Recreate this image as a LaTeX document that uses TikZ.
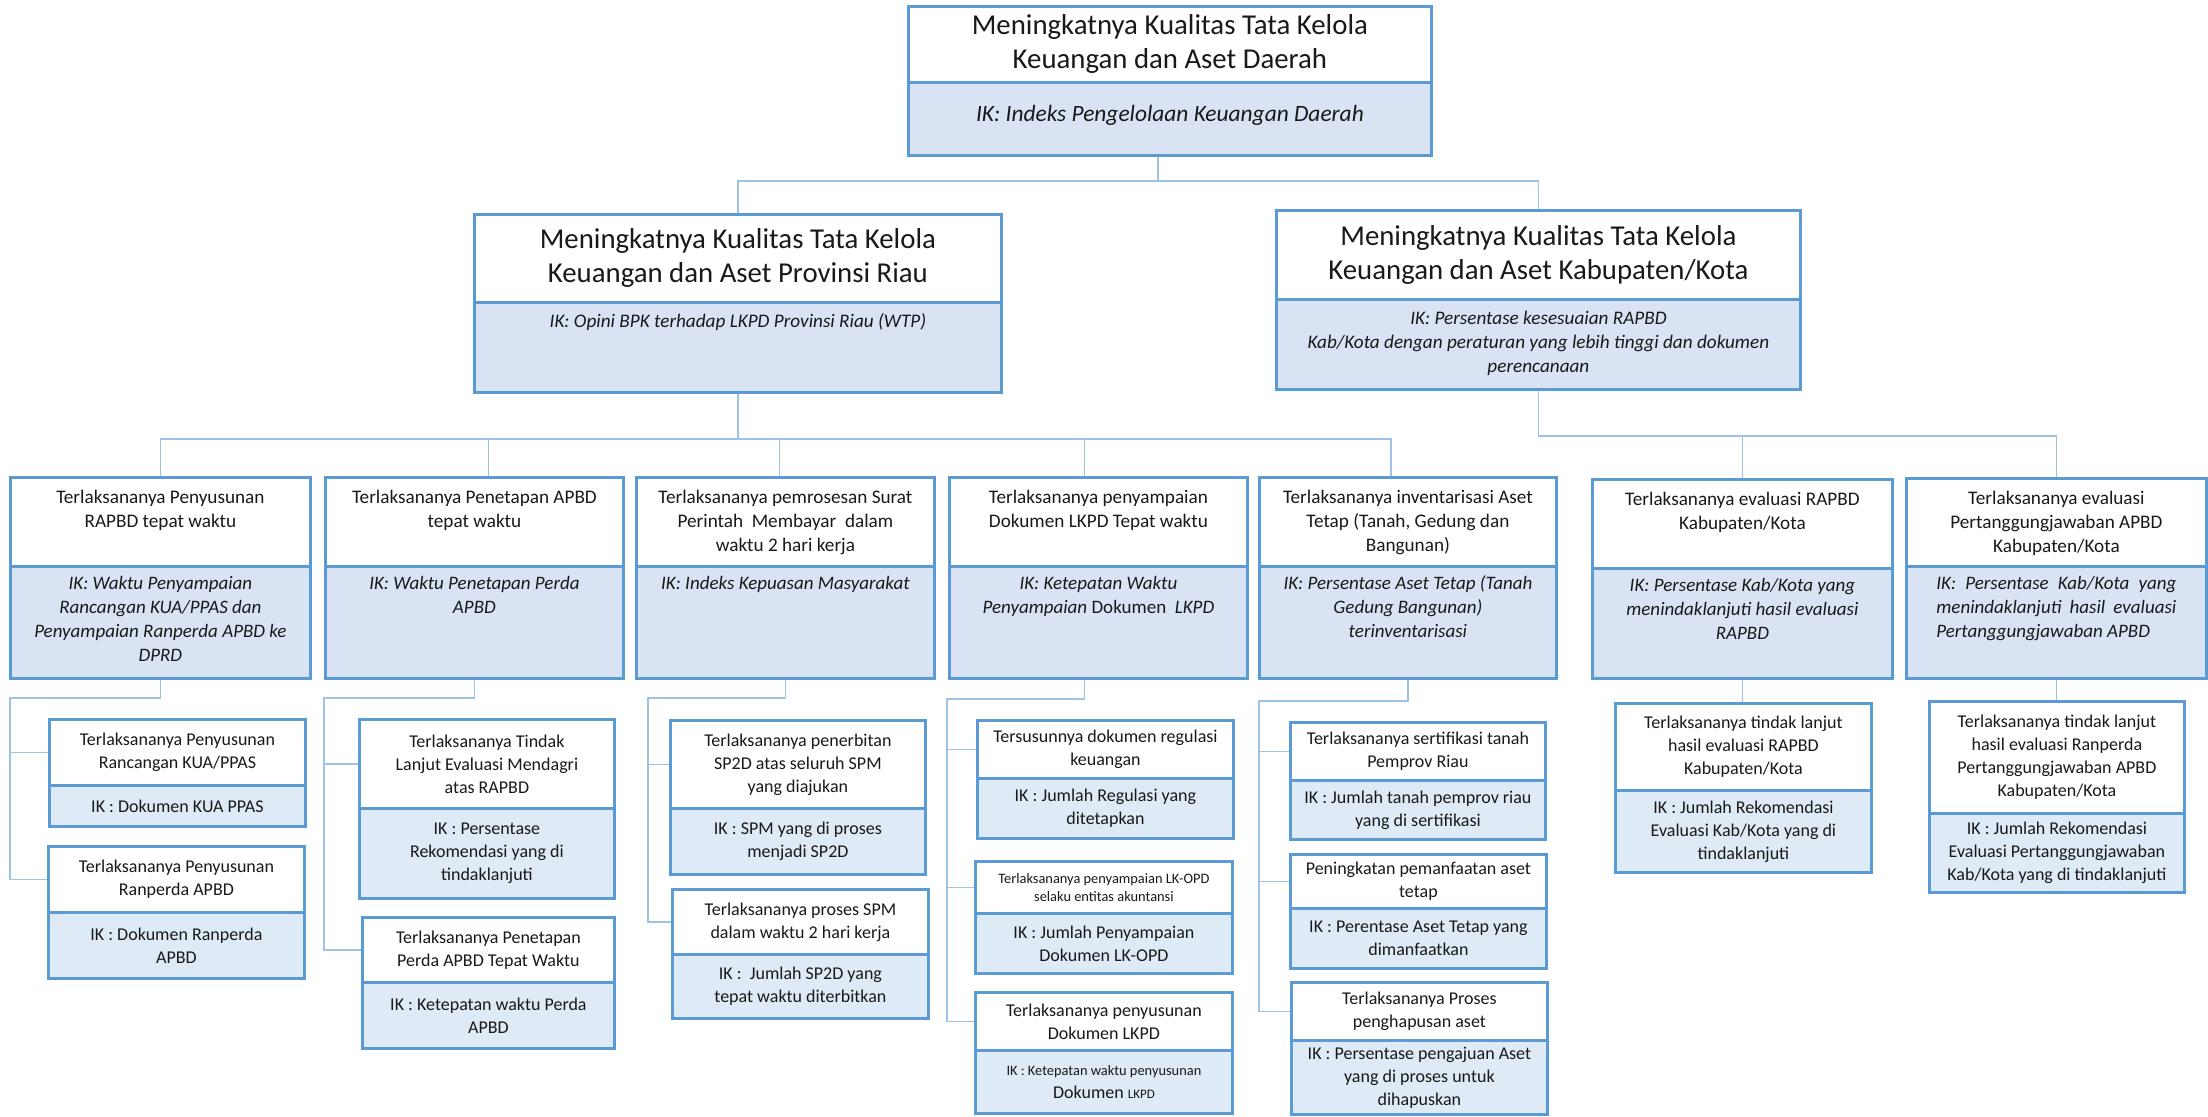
\documentclass[tikz,border=0pt]{standalone}
\usepackage{fontspec}
\setmainfont{Carlito}
\definecolor{bord}{RGB}{91,155,213}
\definecolor{lav}{RGB}{218,227,243}
\definecolor{lbl}{RGB}{222,235,247}
\definecolor{connc}{RGB}{157,195,230}
\definecolor{ink}{RGB}{25,25,25}
\newlength\ux \setlength\ux{0.5pt}
% centred cell: name, x, y, w, h, style, text
\newcommand\cellc[7]{\node[#6,anchor=north west,inner sep=0pt,minimum width=#4\ux,minimum height=#5\ux] (#1) at (#2,#3) {\parbox[c][#5\ux][c]{\dimexpr#4\ux-6pt\relax}{\centering #7\par}};}
% top-aligned cell: name, x, y, w, h, style, pad, text
\newcommand\cellt[8]{\node[#6,anchor=north west,inner sep=0pt,minimum width=#4\ux,minimum height=#5\ux] (#1) at (#2,#3) {\parbox[c][#5\ux][t]{\dimexpr#4\ux-6pt\relax}{\vspace*{#7}\centering\strut #8\par}};}
\begin{document}
\begin{tikzpicture}[x=0.5pt,y=-0.5pt,
  wbox/.style={draw=bord,line width=1.4pt,fill=white,text=ink},
  kbox/.style={draw=bord,line width=1.4pt,fill=lav,text=ink},
  sbox/.style={draw=bord,line width=1.4pt,fill=lbl,text=ink},
  ftop/.style={font=\fontsize{14.4}{17}\selectfont},
  ftopik/.style={font=\fontsize{11.7}{14}\selectfont\itshape},
  fik/.style={font=\fontsize{9.6}{12}\selectfont\itshape},
  fl3/.style={font=\fontsize{9.6}{12}\selectfont},
  fik3/.style={font=\fontsize{9.5}{12}\selectfont\itshape},
  fsub/.style={font=\fontsize{9}{11.5}\selectfont},
  ftiny/.style={font=\fontsize{7.2}{8.8}\selectfont},
  link/.style={draw=connc,line width=0.9pt}]
\fill[white] (0,0) rectangle (2208,1116);
\useasboundingbox (0,0) rectangle (2208,1116);

% level 1
\cellc{tt}{907}{5}{523}{76}{wbox,ftop}{Meningkatnya Kualitas Tata Kelola\\Keuangan dan Aset Daerah}
\cellt{tk}{907}{81}{523}{73}{kbox,ftopik}{9.5pt}{IK: Indeks Pengelolaan Keuangan Daerah}

% level 2
\cellc{lt}{473}{213}{527}{88}{wbox,ftop}{Meningkatnya Kualitas Tata Kelola\\Keuangan dan Aset Provinsi Riau}
\cellt{lk}{473}{301}{527}{90}{kbox,fik}{4pt}{IK: Opini BPK terhadap LKPD Provinsi Riau (WTP)}
\cellc{rt}{1275}{209}{524}{89}{wbox,ftop}{Meningkatnya Kualitas Tata Kelola\\Keuangan dan Aset Kabupaten/Kota}
\cellt{rk}{1275}{298}{524}{90}{kbox,fik}{4pt}{IK: Persentase kesesuaian RAPBD\\Kab/Kota dengan peraturan yang lebih tinggi dan dokumen\\perencanaan}

% level 3
\cellt{b1t}{9}{476}{300}{89}{wbox,fl3}{4.5pt}{Terlaksananya Penyusunan\\RAPBD tepat waktu}
\cellt{b1k}{9}{565}{300}{112}{kbox,fik3}{3pt}{IK: Waktu Penyampaian\\Rancangan KUA/PPAS dan\\Penyampaian Ranperda APBD ke\\DPRD}
\cellt{b2t}{324}{476}{298}{89}{wbox,fl3}{4.5pt}{Terlaksananya Penetapan APBD\\tepat waktu}
\cellt{b2k}{324}{565}{298}{112}{kbox,fik3}{3pt}{IK: Waktu Penetapan Perda\\APBD}
\cellt{b3t}{635}{476}{298}{89}{wbox,fl3}{4.5pt}{Terlaksananya pemrosesan Surat\\Perintah~ Membayar~ dalam\\waktu 2 hari kerja}
\cellt{b3k}{635}{565}{298}{112}{kbox,fik3}{3pt}{IK: Indeks Kepuasan Masyarakat}
\cellt{b4t}{948}{476}{298}{89}{wbox,fl3}{4.5pt}{Terlaksananya penyampaian\\Dokumen LKPD Tepat waktu}
\cellt{b4k}{948}{565}{298}{112}{kbox,fik3}{3pt}{IK: Ketepatan Waktu\\Penyampaian {\upshape Dokumen}~ LKPD}
\cellt{b5t}{1258}{476}{297}{89}{wbox,fl3}{4.5pt}{Terlaksananya inventarisasi Aset\\Tetap (Tanah, Gedung dan\\Bangunan)}
\cellt{b5k}{1258}{565}{297}{112}{kbox,fik3}{3pt}{IK: Persentase Aset Tetap (Tanah\\Gedung Bangunan)\\terinventarisasi}
\cellt{b6t}{1591}{478}{300}{89}{wbox,fl3}{4.5pt}{Terlaksananya evaluasi RAPBD\\Kabupaten/Kota}
\cellt{b6k}{1591}{567}{300}{110}{kbox,fik3}{3pt}{IK: Persentase Kab/Kota yang\\menindaklanjuti hasil evaluasi\\RAPBD}
\cellt{b7t}{1905}{477}{300}{88}{wbox,fl3}{4.5pt}{Terlaksananya evaluasi\\Pertanggungjawaban APBD\\Kabupaten/Kota}
\cellt{b7k}{1905}{565}{300}{112}{kbox,fik3}{3pt}{\parbox[t]{120pt}{IK: Persentase Kab/Kota yang\linebreak menindaklanjuti hasil evaluasi\linebreak Pertanggungjawaban APBD}}

% level 4
\cellc{a1t}{48}{718}{256}{66}{wbox,fsub}{Terlaksananya Penyusunan\\Rancangan KUA/PPAS}
\cellc{a1k}{48}{784}{256}{41}{sbox,fsub}{IK : Dokumen KUA PPAS}
\cellc{a2t}{47}{845}{256}{66}{wbox,fsub}{Terlaksananya Penyusunan\\Ranperda APBD}
\cellc{a2k}{47}{911}{256}{66}{sbox,fsub}{IK : Dokumen Ranperda\\APBD}
\cellc{c1t}{358}{718}{255}{89}{wbox,fsub}{Terlaksananya Tindak\\Lanjut Evaluasi Mendagri\\atas RAPBD}
\cellc{c1k}{358}{807}{255}{90}{sbox,fsub}{IK : Persentase\\Rekomendasi yang di\\tindaklanjuti}
\cellc{c2t}{361}{916}{252}{65}{wbox,fsub}{Terlaksananya Penetapan\\Perda APBD Tepat Waktu}
\cellc{c2k}{361}{981}{252}{66}{sbox,fsub}{IK : Ketepatan waktu Perda\\APBD}
\cellc{d1t}{669}{719}{255}{88}{wbox,fsub}{Terlaksananya penerbitan\\SP2D atas seluruh SPM\\yang diajukan}
\cellc{d1k}{669}{807}{255}{66}{sbox,fsub}{IK : SPM yang di proses\\menjadi SP2D}
\cellc{d2t}{671}{888}{256}{65}{wbox,fsub}{Terlaksananya proses SPM\\dalam waktu 2 hari kerja}
\cellc{d2k}{671}{953}{256}{64}{sbox,fsub}{IK :~ Jumlah SP2D yang\\tepat waktu diterbitkan}
\cellc{e1t}{976}{719}{256}{58}{wbox,fsub}{Tersusunnya dokumen regulasi\\keuangan}
\cellc{e1k}{976}{777}{256}{60}{sbox,fsub}{IK : Jumlah Regulasi yang\\ditetapkan}
\cellc{e2t}{974}{860}{257}{52}{wbox,ftiny}{Terlaksananya penyampaian LK-OPD\\selaku entitas akuntansi}
\cellc{e2k}{974}{912}{257}{60}{sbox,fsub}{IK : Jumlah Penyampaian\\Dokumen LK-OPD}
\cellc{e3t}{974}{991}{257}{58}{wbox,fsub}{Terlaksananya penyusunan\\Dokumen LKPD}
\cellc{e3k}{974}{1049}{257}{63}{sbox,fsub}{{\fontsize{7.2}{9}\selectfont IK : Ketepatan waktu penyusunan}\\Dokumen {\fontsize{6.5}{8}\selectfont LKPD}}
\cellc{f1t}{1289}{721}{255}{58}{wbox,fsub}{Terlaksananya sertifikasi tanah\\Pemprov Riau}
\cellc{f1k}{1289}{779}{255}{59}{sbox,fsub}{IK : Jumlah tanah pemprov riau\\yang di sertifikasi}
\cellc{f2t}{1289}{853}{256}{54}{wbox,fsub}{Peningkatan pemanfaatan aset\\tetap}
\cellc{f2k}{1289}{907}{256}{60}{sbox,fsub}{IK : Perentase Aset Tetap yang\\dimanfaatkan}
\cellc{f3t}{1290}{981}{256}{58}{wbox,fsub}{Terlaksananya Proses\\penghapusan aset}
\cellc{f3k}{1290}{1039}{256}{74}{sbox,fsub}{IK : Persentase pengajuan Aset\\yang di proses untuk\\dihapuskan}
\cellc{g1t}{1614}{702}{256}{87}{wbox,fsub}{Terlaksananya tindak lanjut\\hasil evaluasi RAPBD\\Kabupaten/Kota}
\cellc{g1k}{1614}{789}{256}{82}{sbox,fsub}{IK : Jumlah Rekomendasi\\Evaluasi Kab/Kota yang di\\tindaklanjuti}
\cellc{h1t}{1928}{700}{255}{112}{wbox,fsub}{Terlaksananya tindak lanjut\\hasil evaluasi Ranperda\\Pertanggungjawaban APBD\\Kabupaten/Kota}
\cellc{h1k}{1928}{812}{255}{79}{sbox,fsub}{IK : Jumlah Rekomendasi\\Evaluasi Pertanggungjawaban\\Kab/Kota yang di tindaklanjuti}

% connectors level 1 -> 2
\draw[link] ([xshift=-6pt]tk.south) -- ++(0,24) coordinate (j0);
\draw[link] (lt.north) |- (j0) -| (rt.north);
% level 2 -> 3
\draw[link] (lk.south) -- ++(0,45) coordinate (j1);
\draw[link] (b1t.north) |- (j1);
\draw[link] ([xshift=7pt]b2t.north) |- (j1);
\draw[link] ([xshift=-3pt]b3t.north) |- (j1);
\draw[link] ([xshift=-7pt]b4t.north) |- (j1);
\draw[link] ([xshift=-8.5pt]b5t.north) |- (j1);
\draw[link] (rk.south) -- ++(0,45) coordinate (j2);
\draw[link] (b6t.north) |- (j2);
\draw[link] (b7t.north) |- (j2);
% level 3 -> 4
\coordinate (r1) at (10,698);
\draw[link] (b1k.south) |- (r1) |- (a1t.west);
\draw[link] (r1) |- (a2t.west);
\coordinate (r2) at (324,698);
\draw[link] (b2k.south) |- (r2) |- (c1t.west);
\draw[link] (r2) |- (c2t.west);
\coordinate (r3) at (648,698);
\draw[link] (b3k.south) |- (r3) |- (d1t.west);
\draw[link] (r3) |- (d2t.west);
\coordinate (r4) at (947,699);
\draw[link] ([xshift=-7pt]b4k.south) |- (r4) |- (e1t.west);
\draw[link] (r4) |- (e2t.west);
\draw[link] (r4) |- (e3t.west);
\coordinate (r5) at (1259,701);
\draw[link] (b5k.south) |- (r5) |- (f1t.west);
\draw[link] (r5) |- (f2t.west);
\draw[link] (r5) |- (f3t.west);
\draw[link] (b6k.south) -- (b6k.south |- g1t.north);
\draw[link] (b7k.south) -- (b7k.south |- h1t.north);
\end{tikzpicture}
\end{document}
